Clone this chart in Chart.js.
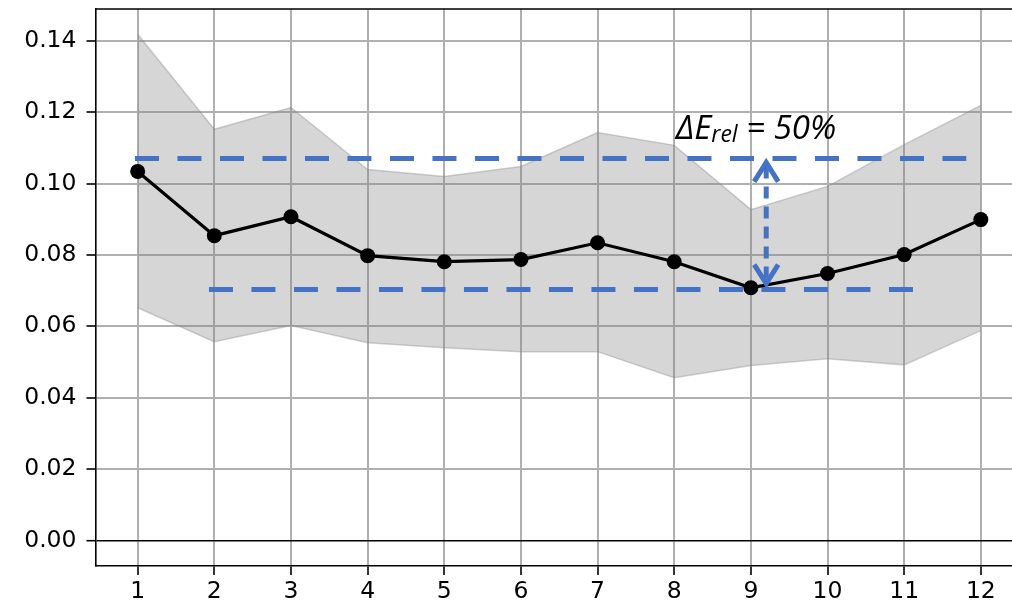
<!DOCTYPE html>
<html><head><meta charset="utf-8">
<script src="https://cdn.jsdelivr.net/npm/chart.js@4.4.0/dist/chart.umd.min.js"></script>
<style>html,body{margin:0;padding:0;overflow:hidden;background:#fff;width:1012px;height:607px}
#wrap{position:absolute;left:0;top:0;width:1040px;height:607px}</style>
</head><body>
<div id="wrap"><canvas id="c" width="1040" height="607"></canvas></div>
<script>
const months = [1,2,3,4,5,6,7,8,9,10,11,12];
const meanValues = [0.1034,0.0854,0.0907,0.0798,0.0781,0.0787,0.0834,0.0781,0.0708,0.0748,0.0801,0.0899];
const upperValues = [0.1418,0.1152,0.1213,0.1039,0.1020,0.1048,0.1143,0.1107,0.0927,0.0992,0.1109,0.1219];
const lowerValues = [0.0652,0.0557,0.0602,0.0554,0.0540,0.0529,0.0529,0.0456,0.0490,0.0509,0.0492,0.0588];
const yTicks = [0,0.02,0.04,0.06,0.08,0.10,0.12,0.14];
const refHigh = {y:0.1070, x0:0.965, x1:11.81};
const refLow = {y:0.0703, x0:1.93, x1:11.12};
const arrowX = 9.2;
const labelText = {main:'ΔE', sub:'rel', rest:' = 50%', x:8.02, y:0.1126};

const pts = (arr)=>months.map((m,i)=>({x:m,y:arr[i]}));

const framePlugin = {
  id:'frame',
  afterDraw(chart){
    const {ctx, chartArea:a, scales:{x,y}} = chart;
    ctx.save();
    // arrow
    const ax = x.getPixelForValue(arrowX);
    const yt = y.getPixelForValue(refHigh.y)+2;
    const yb = y.getPixelForValue(refLow.y)-4;
    ctx.strokeStyle='#4472C4'; ctx.lineWidth=5; ctx.lineCap='butt';
    ctx.setLineDash([12,8]);
    ctx.beginPath(); ctx.moveTo(ax,yt+6); ctx.lineTo(ax,yb-6); ctx.stroke();
    ctx.setLineDash([]);
    ctx.lineJoin='miter';
    ctx.beginPath(); ctx.moveTo(ax-12,yt+21); ctx.lineTo(ax,yt+2); ctx.lineTo(ax+12,yt+21); ctx.stroke();
    ctx.beginPath(); ctx.moveTo(ax-12,yb-21); ctx.lineTo(ax,yb-2); ctx.lineTo(ax+12,yb-21); ctx.stroke();
    // label
    let tx = x.getPixelForValue(labelText.x), ty = y.getPixelForValue(labelText.y);
    ctx.fillStyle='#000'; ctx.textBaseline='alphabetic'; ctx.textAlign='left';
    ctx.font='italic 33px "Open Sans"';
    ctx.fillText(labelText.main, tx, ty);
    tx += ctx.measureText(labelText.main).width;
    ctx.font='italic 23px "Open Sans"';
    ctx.fillText(labelText.sub, tx, ty+3);
    tx += ctx.measureText(labelText.sub).width;
    ctx.font='italic 33px "Open Sans"';
    ctx.fillText(labelText.rest, tx, ty);
    // frame top/right
    ctx.strokeStyle='#000'; ctx.lineWidth=1.6;
    ctx.beginPath(); ctx.moveTo(a.left,a.top); ctx.lineTo(a.right,a.top); ctx.lineTo(a.right,a.bottom); ctx.stroke();
    ctx.restore();
  }
};

new Chart(document.getElementById('c'), {
  type:'line',
  data:{datasets:[
    {data:pts(lowerValues), borderColor:'rgba(140,140,140,0.4)', borderWidth:1.5, pointRadius:0, backgroundColor:'rgba(128,128,128,0.32)', fill:false, order:5},
    {data:pts(upperValues), borderColor:'rgba(140,140,140,0.4)', borderWidth:1.5, pointRadius:0, backgroundColor:'rgba(128,128,128,0.32)', fill:'-1', order:5},
    {data:[{x:refHigh.x0,y:refHigh.y},{x:refHigh.x1,y:refHigh.y}], borderColor:'#4472C4', borderWidth:5, borderDash:[24,18.5], pointRadius:0, fill:false, order:2, borderCapStyle:'butt'},
    {data:[{x:refLow.x0,y:refLow.y},{x:refLow.x1,y:refLow.y}], borderColor:'#4472C4', borderWidth:5, borderDash:[24,18.5], pointRadius:0, fill:false, order:2, borderCapStyle:'butt'},
    {data:pts(meanValues), borderColor:'#000', borderWidth:3.2, pointRadius:7.5, pointBackgroundColor:'#000', pointBorderWidth:0, fill:false, tension:0, order:1}
  ]},
  options:{
    responsive:false, animation:false, devicePixelRatio:1,
    layout:{padding:{top:9,right:17,left:0,bottom:0}},
    plugins:{legend:{display:false}, tooltip:{enabled:false}},
    scales:{
      x:{type:'linear', min:0.45, max:12.55,
        afterBuildTicks(s){ s.ticks = months.map(v=>({value:v})); },
        afterFit(s){ s.height = 41; s.paddingLeft = 0; s.paddingRight = 0; },
        ticks:{color:'#000', font:{family:'DejaVu Sans', size:23.5}, padding:3, maxRotation:0, autoSkip:false},
        grid:{color:'#b0b0b0', lineWidth:2, tickColor:'#000', tickLength:9, tickWidth:1.6},
        border:{display:true, color:'#000', width:1.6}
      },
      y:{type:'linear', min:-0.00715, max:0.1489,
        afterBuildTicks(s){ s.ticks = yTicks.map(v=>({value:v})); },
        afterFit(s){ s.width = 95.5; s.paddingTop = 0; s.paddingBottom = 0; },
        ticks:{color:'#000', font:{family:'DejaVu Sans', size:23.5}, padding:10, callback:(v)=>v.toFixed(2)},
        grid:{color:(c)=> (c.tick && c.tick.value===0) ? '#000' : '#b0b0b0', lineWidth:(c)=>(c.tick && c.tick.value===0)?1.4:2, tickColor:'#000', tickLength:9, tickWidth:1.6},
        border:{display:true, color:'#000', width:1.6}
      }
    }
  },
  plugins:[framePlugin]
});
</script>
</body></html>
